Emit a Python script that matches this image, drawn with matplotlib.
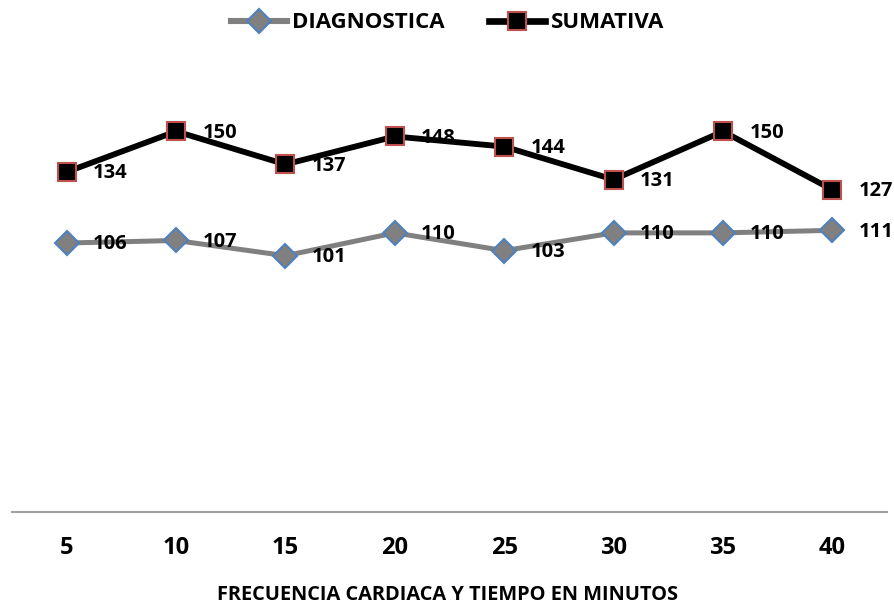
import matplotlib
matplotlib.use("Agg")
from matplotlib import pyplot as plt
from matplotlib.lines import Line2D

# ----------------- data -----------------
minutes = ["5", "10", "15", "20", "25", "30", "35", "40"]
diagnostica = [106, 107, 101, 110, 103, 110, 110, 111]
sumativa = [134, 150, 137, 148, 144, 131, 150, 127]

plt.rcParams['font.family'] = ['Open Sans', 'DejaVu Sans']
plt.rcParams['font.weight'] = 'bold'

fig = plt.figure(figsize=(8.95, 6.08), dpi=100)
ax = fig.add_axes([12 / 895, 96 / 608, 875 / 895, 406 / 608])

x = list(range(len(minutes)))
ax.plot(x, diagnostica, color='#808080', linewidth=3.6, marker='D',
        markersize=12.5, markerfacecolor='#808080', markeredgecolor='#4f81bd',
        markeredgewidth=1.5, label='DIAGNOSTICA', zorder=3)
ax.plot(x, sumativa, color='black', linewidth=4.2, marker='s',
        markersize=13, markerfacecolor='black', markeredgecolor='#c0504d',
        markeredgewidth=1.5, label='SUMATIVA', zorder=4)

# etiquetas de datos
for xi, v in zip(x, diagnostica):
    ax.annotate(str(v), xy=(xi, v), xytext=(19, -1), textcoords='offset points',
                ha='left', va='center', fontsize=14.5, fontweight='bold')
for xi, v in zip(x, sumativa):
    ax.annotate(str(v), xy=(xi, v), xytext=(19, -1), textcoords='offset points',
                ha='left', va='center', fontsize=14.5, fontweight='bold')

ax.set_xlim(-0.5, len(minutes) - 0.5)
ax.set_ylim(0, 160)
ax.set_xticks(x)
ax.set_xticklabels(minutes, fontsize=17, fontweight='bold')
ax.set_yticks([])
ax.tick_params(axis='x', length=0, pad=17)
for side in ['top', 'right', 'left']:
    ax.spines[side].set_visible(False)
ax.spines['bottom'].set_color('#a0a0a0')
ax.spines['bottom'].set_linewidth(1.5)

fig.text(0.5, 1 - 595 / 608, 'FRECUENCIA CARDIACA Y TIEMPO EN MINUTOS',
         ha='center', va='center', fontsize=14.4, fontweight='bold')

handles = [
    Line2D([], [], color='#808080', linewidth=4.4, marker='D', markersize=12.5,
           markerfacecolor='#808080', markeredgecolor='#4f81bd', markeredgewidth=1.5),
    Line2D([], [], color='black', linewidth=4.8, marker='s', markersize=13,
           markerfacecolor='black', markeredgecolor='#c0504d', markeredgewidth=1.5),
]
fig.legend(handles, ['DIAGNOSTICA', 'SUMATIVA'], loc='center',
           bbox_to_anchor=(0.5, 1 - 23 / 608), ncol=2, frameon=False,
           handlelength=2.5, handletextpad=0.25, columnspacing=2.0,
           prop={'weight': 'bold', 'size': 16})

fig.savefig('out.png', dpi=100)
